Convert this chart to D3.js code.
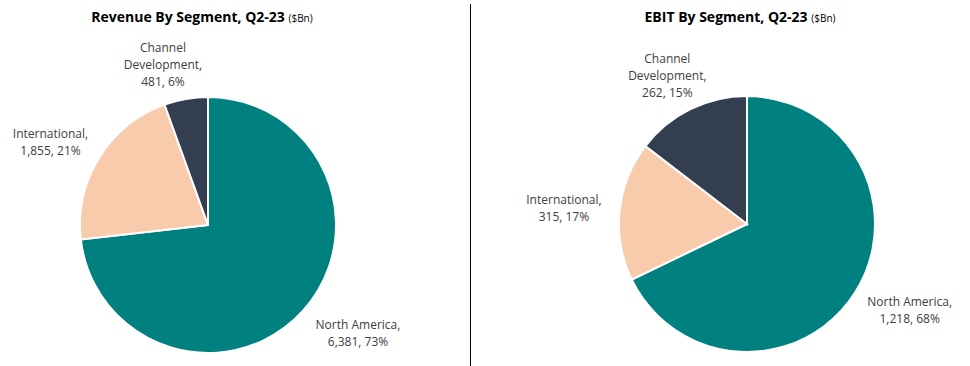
<!DOCTYPE html>
<html lang="en">
<head>
  <meta charset="UTF-8">
  <title>Segments Q2-23</title>
  <style>
    body { margin: 0; background: #fff; }
    text { font-family: "Open Sans", "Noto Sans", sans-serif; }
  </style>
</head>
<body>
  <script src="https://cdn.jsdelivr.net/npm/d3@7"></script>
  <script>
  var segments = ['North America', 'International', 'Channel Development'];
  var revenue = [6381, 1855, 481];
  var revenuePct = [73, 21, 6];
  var ebit = [1218, 315, 262];
  var ebitPct = [68, 17, 15];
  var titles = ['Revenue By Segment, Q2-23', 'EBIT By Segment, Q2-23'];
  var unit = '($Bn)';

  var colors = ['#00807f', '#f8cbad', '#333f50'];
  var w = 970, h = 366, r = 128;

  var svg = d3.select('body').append('svg').attr('width', w).attr('height', h);

  // divider between the two pies
  svg.append('line')
    .attr('x1', 470.5).attr('x2', 470.5)
    .attr('y1', 4).attr('y2', h)
    .attr('stroke', '#000').attr('stroke-width', 1);

  var fmt = d3.format(',');
  var pie = d3.pie().sort(null).value(function (d) { return d.v; });
  var arc = d3.arc().innerRadius(0).outerRadius(r);

  // small nudges where excel moved the label boxes
  var nudges = [
    [[12, 3], [-8, 0], [-14, 3]],
    [[6, 2], [-8, 0], [0, 0]]
  ];

  function drawPie(values, pcts, title, cx, cy, tx, k) {
    var data = segments.map(function (s, i) { return { name: s, v: values[i], p: pcts[i], i: i }; });

    var t = svg.append('text')
      .attr('x', tx).attr('y', 22)
      .attr('text-anchor', 'middle')
      .attr('fill', '#000');
    t.append('tspan').attr('font-size', 14).attr('font-weight', 'bold').text(title + ' ');
    t.append('tspan').attr('font-size', 10).text(unit);

    var g = svg.append('g').attr('transform', 'translate(' + cx + ',' + cy + ')');
    var arcs = pie(data);

    g.selectAll('path')
      .data(arcs)
      .enter()
      .append('path')
      .attr('d', arc)
      .attr('fill', function (d) { return colors[d.data.i]; })
      .attr('stroke', '#fff')
      .attr('stroke-width', 2);

    arcs.forEach(function (d) {
      var lines;
      var tail = fmt(d.data.v) + ', ' + d.data.p + '%';
      if (d.data.name === 'Channel Development') {
        lines = ['Channel', 'Development,', tail];
      } else {
        lines = [d.data.name + ',', tail];
      }
      var a = (d.startAngle + d.endAngle) / 2;
      var sx = Math.sin(a), sy = -Math.cos(a);
      var lh = 17;
      var bw = d.data.name === 'North America' ? 90 : (d.data.name === 'International' ? 72 : 80);
      var bh = lines.length * lh;
      var px = sx * (r + 12), py = sy * (r + 12);
      var nx = nudges[k][d.data.i];
      var bx = px + sx * bw / 2 + nx[0];
      var by = py + sy * bh / 2 + nx[1];

      var lt = g.append('text')
        .attr('text-anchor', 'middle')
        .attr('font-size', 12)
        .attr('fill', '#404040');
      lines.forEach(function (l, j) {
        lt.append('tspan')
          .attr('x', bx)
          .attr('y', by - bh / 2 + lh * j + 13)
          .text(l);
      });
    });
  }

  drawPie(revenue, revenuePct, titles[0], 208, 225, 202, 0);
  drawPie(ebit, ebitPct, titles[1], 747, 224, 740, 1);
  </script>
</body>
</html>
